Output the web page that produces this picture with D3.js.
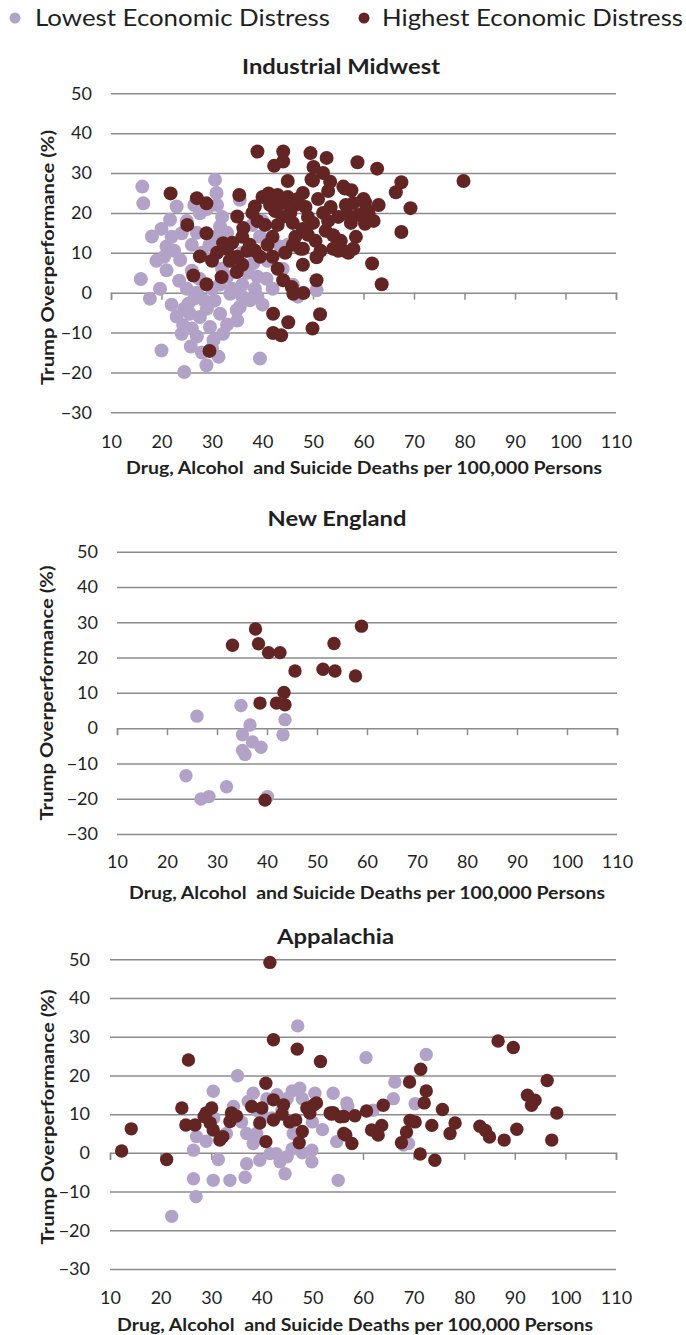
<!DOCTYPE html>
<html>
<head>
<meta charset="utf-8">
<script src="https://cdn.jsdelivr.net/npm/d3@7"></script>
<style>
  html, body { margin: 0; padding: 0; background: #ffffff; }
  svg { display: block; font-family: Lato, "Liberation Sans", sans-serif; }
</style>
</head>
<body>
<svg id="chart" width="686" height="1335"></svg>
<script>
// ---- labels and ticks ----
const xTicks = [10, 20, 30, 40, 50, 60, 70, 80, 90, 100, 110];
const yTicks = [-30, -20, -10, 0, 10, 20, 30, 40, 50];
const legendLabels = ["Lowest Economic Distress", "Highest Economic Distress"];
const regionNames = ["Industrial Midwest", "New England", "Appalachia"];
const xAxisTitle = "Drug, Alcohol  and Suicide Deaths per 100,000 Persons";
const yAxisTitle = "Trump Overperformance (%)";

// ---- county values: [deaths per 100k, Trump overperformance %] ----
const midwestLowest = [
  [16.2,26.6],[16.4,22.4],[18.1,14.1],[15.9,3.4],[17.7,-1.5],[19.7,1.0],[20.0,-14.5],[24.5,-19.9],
  [25.8,-13.5],[28.9,-18.2],[24.3,-8.2],[24.0,-10.3],[25.3,-2.8],[25.6,-5.3],[31.6,-5.3],[32.2,-10.3],
  [31.3,-16.1],[39.5,-16.5],[35.5,-3.6],[37.5,-1.9],[40.8,3.5],[50.7,0.6],[21.0,5.6],[27.6,-6.1],
  [29.6,-8.6],[30.3,-11.9],[33.6,-0.3],[34.9,-4.4],[30.6,28.3],[30.9,25.0],[23.0,21.6],[21.7,18.3],
  [24.0,14.9],[27.6,19.9],[31.6,16.6],[21.0,11.6],[23.7,8.2],[39.5,14.1],[43.5,11.6],[35.5,23.3],
  [38.2,7.4],[22.5,10.5],[23.5,3.0],[25.0,1.0],[26.0,5.5],[27.0,0.0],[27.5,3.5],[28.5,-2.0],
  [29.0,-4.0],[30.0,1.0],[30.5,-2.0],[31.5,2.0],[32.0,6.0],[33.0,4.0],[34.0,1.0],[36.0,2.0],
  [37.0,5.0],[36.0,-1.0],[38.5,1.0],[39.0,-1.0],[41.0,8.0],[42.0,13.0],[40.0,18.0],[38.0,17.0],
  [33.0,15.0],[32.0,19.0],[29.5,12.0],[28.0,10.0],[26.0,12.0],[27.0,15.0],[25.0,18.0],[29.0,21.0],
  [31.0,22.0],[26.5,22.0],[22.0,14.0],[20.5,9.0],[22.0,-3.0],[23.0,-6.0],[26.0,-9.0],[27.0,-11.0],
  [28.0,-15.0],[30.0,-14.0],[33.0,-8.0],[35.0,-7.0],[34.0,8.0],[44.0,6.0],[46.0,2.0],[47.0,-1.0],
  [40.0,-3.0],[42.0,1.0],[36.0,10.0],[39.0,4.0],[45.0,12.0],[30.5,14.0],[32.5,11.0],[24.5,-4.0],
  [26.5,-1.5],[20.0,16.0],[19.0,8.0]
];
const midwestHighest = [
  [39.0,35.4],[44.1,35.4],[42.3,31.8],[44.1,32.9],[49.5,35.0],[52.7,33.8],[50.1,31.5],[49.7,28.4],
  [53.4,27.8],[56.0,26.6],[21.8,24.9],[27.0,23.7],[28.9,22.4],[35.4,24.5],[38.5,21.6],[41.2,24.9],
  [25.1,17.0],[28.9,14.9],[35.0,19.1],[36.2,16.2],[27.6,9.1],[32.2,12.4],[58.8,32.7],[62.7,31.1],
  [67.5,27.7],[66.4,25.2],[79.8,28.0],[69.3,21.2],[67.5,15.2],[61.7,7.3],[63.6,2.1],[56.3,26.1],
  [57.6,25.7],[60.3,22.7],[60.6,19.8],[60.3,17.3],[56.0,10.6],[54.0,14.4],[50.0,28.1],[56.7,19.8],
  [50.7,8.9],[50.7,3.1],[26.3,4.3],[28.9,2.1],[31.9,3.9],[34.9,5.2],[29.5,-14.6],[42.1,-5.3],
  [45.1,-7.4],[42.1,-10.1],[43.7,-10.7],[44.1,3.1],[45.8,1.4],[48.1,-0.1],[46.1,-0.3],[51.4,-5.4],
  [49.9,-9.0],[30.0,8.0],[31.0,10.0],[33.0,11.0],[34.0,12.5],[35.0,9.0],[36.0,7.0],[37.0,10.5],
  [37.5,12.0],[38.5,10.5],[39.5,9.0],[38.0,20.0],[40.0,24.0],[41.5,22.0],[42.5,20.5],[43.0,17.0],
  [44.0,19.0],[45.0,24.0],[45.5,20.0],[46.0,17.5],[46.5,14.0],[47.0,23.5],[47.5,11.0],[48.0,16.0],
  [48.5,21.5],[49.0,19.0],[50.0,17.5],[50.5,13.0],[51.0,23.5],[51.5,10.5],[52.0,20.0],[52.5,15.5],
  [53.0,25.5],[53.5,21.5],[54.0,11.0],[55.0,19.0],[55.5,13.0],[56.5,22.0],[57.5,17.5],[58.0,22.5],
  [58.5,14.0],[59.0,19.5],[60.0,23.5],[61.0,20.0],[62.0,18.0],[41.0,12.0],[42.0,9.0],[43.0,6.0],
  [44.5,10.0],[46.0,12.0],[48.0,7.0],[49.0,14.5],[44.0,22.5],[46.5,22.0],[40.5,17.0],[42.0,14.0],
  [39.0,18.0],[36.0,14.0],[33.5,8.0],[43.0,24.5],[48.0,25.0],[55.0,10.5],[57.0,10.0],[60.5,21.0],
  [63.0,22.0],[52.0,30.0],[45.0,28.0],[48.0,11.0],[53.0,18.0],[58.0,11.0]
];

const newEnglandLowest = [
  [26.0,3.4],[34.8,6.4],[36.6,0.9],[35.1,-1.9],[37.1,-3.9],[38.8,-5.4],[35.1,-6.3],[35.6,-7.5],
  [43.6,2.4],[43.2,-1.9],[23.8,-13.5],[26.8,-20.1],[28.4,-19.4],[31.9,-16.6],[40.1,-19.4]
];
const newEnglandHighest = [
  [33.1,23.5],[37.7,28.1],[38.3,23.9],[40.3,21.4],[42.6,21.4],[45.6,16.2],[51.2,16.7],[53.6,16.2],
  [53.4,24.0],[57.7,14.8],[58.9,28.9],[38.6,7.1],[41.9,7.1],[43.4,10.1],[43.6,6.6],[39.6,-20.4]
];

const appalachiaLowest = [
  [47.1,32.8],[35.2,19.9],[30.4,15.9],[47.5,16.7],[50.5,15.4],[54.1,15.4],[38.3,15.4],[37.3,13.3],
  [60.6,24.6],[72.5,25.4],[66.3,18.3],[70.3,12.7],[56.8,12.9],[22.2,-16.4],[27.0,-11.3],[26.5,-6.7],
  [26.5,0.7],[27.1,4.2],[31.4,-1.7],[30.4,-7.1],[33.7,-7.1],[36.7,-6.3],[37.0,-2.8],[39.6,-1.9],
  [41.6,-0.2],[42.9,-0.2],[43.6,-2.3],[44.6,-5.4],[49.9,-2.3],[49.9,0.7],[55.1,-7.1],[37.0,5.0],
  [38.3,2.4],[46.2,5.0],[54.8,2.9],[34.4,12.0],[69.0,2.4],[39.0,11.0],[41.0,14.0],[43.0,15.0],
  [45.0,14.0],[46.0,16.0],[48.0,14.0],[44.0,11.0],[42.0,9.0],[36.0,8.0],[39.0,5.0],[33.0,5.0],
  [29.0,3.0],[46.0,1.0],[48.0,0.0],[45.0,-1.0],[50.0,8.0],[52.0,6.0],[57.0,12.0],[62.0,11.0],
  [66.0,14.0],[68.0,2.0],[30.5,9.0],[40.0,10.0]
];
const appalachiaHighest = [
  [41.6,49.2],[42.3,29.2],[47.0,26.8],[51.6,23.6],[25.5,24.0],[40.8,18.0],[24.2,11.6],[30.1,11.6],
  [42.3,13.7],[44.3,12.4],[50.8,12.9],[54.1,10.4],[40.0,11.6],[34.0,10.3],[29.0,10.3],[48.9,11.6],
  [86.7,28.9],[89.7,27.2],[96.4,18.7],[71.4,21.6],[72.5,16.0],[69.2,18.3],[72.1,12.9],[64.0,12.3],
  [75.7,11.2],[92.5,14.9],[94.0,13.6],[93.3,12.3],[98.3,10.3],[60.7,10.8],[12.3,0.5],[14.2,6.2],
  [21.2,-1.7],[25.0,7.2],[26.8,7.2],[28.6,9.4],[29.8,7.7],[30.4,5.9],[31.7,3.3],[32.3,4.2],
  [33.7,8.1],[39.6,7.7],[40.8,2.9],[42.3,8.5],[46.7,8.5],[48.0,5.5],[47.4,2.6],[49.5,10.3],
  [53.5,10.3],[56.2,9.4],[56.2,5.0],[53.8,10.0],[55.5,9.3],[58.4,9.6],[56.6,4.6],[57.8,2.4],
  [61.7,5.9],[63.0,4.6],[63.7,7.1],[69.3,8.4],[68.6,5.4],[67.6,2.6],[70.3,8.0],[71.3,-0.3],
  [74.2,-1.9],[73.6,7.1],[77.2,5.0],[78.2,7.7],[83.1,6.9],[84.2,5.8],[85.0,4.1],[87.9,3.3],
  [90.4,6.1],[97.3,3.3],[50.2,12.3],[45.5,8.0],[44.0,10.0],[35.0,9.5],[38.0,12.0]
];

// ---- styling ----
const lowColor = "#b3a2c7";
const highColor = "#632523";
const gridColor = "#8c8c8c";
const textColor = "#1f1f1f";

// ---- panel geometry ----
const panels = [
  { name: regionNames[0], low: midwestLowest, high: midwestHighest,
    x0: 111, x1: 616, yTop: 93.3, yBot: 412.3, r: 7,
    titleX: 341, titleY: 67, titleW: 198,
    yLabelX: 92, yTitleX: 48, yTitleY: 257.5,
    xLabelY: 442, xTitleX: 364, xTitleY: 468 },
  { name: regionNames[1], low: newEnglandLowest, high: newEnglandHighest,
    x0: 117, x1: 617, yTop: 551.7, yBot: 834, r: 6.7,
    titleX: 337, titleY: 519, titleW: 139,
    yLabelX: 98, yTitleX: 47, yTitleY: 693,
    xLabelY: 862, xTitleX: 367, xTitleY: 893 },
  { name: regionNames[2], low: appalachiaLowest, high: appalachiaHighest,
    x0: 110, x1: 616, yTop: 959.3, yBot: 1269, r: 6.7,
    titleX: 335.5, titleY: 937, titleW: 117,
    yLabelX: 90, yTitleX: 48, yTitleY: 1117,
    xLabelY: 1298, xTitleX: 355, xTitleY: 1325 }
];

const svg = d3.select("#chart");

// ---- legend ----
const legend = svg.append("g").attr("class", "legend");
const legendItems = [
  { label: legendLabels[0], color: lowColor, dotX: 15, textX: 35, textW: 295 },
  { label: legendLabels[1], color: highColor, dotX: 364, textX: 382, textW: 301 }
];
legendItems.forEach(item => {
  legend.append("circle")
    .attr("cx", item.dotX).attr("cy", 18).attr("r", 5.5)
    .attr("fill", item.color);
  legend.append("text")
    .attr("x", item.textX).attr("y", 18)
    .attr("dy", "0.35em")
    .attr("font-size", 23)
    .attr("fill", textColor)
    .attr("textLength", item.textW)
    .attr("lengthAdjust", "spacingAndGlyphs")
    .text(item.label);
});

// ---- panels ----
panels.forEach(p => {
  const g = svg.append("g").attr("class", "panel");
  const x = d3.scaleLinear().domain([10, 110]).range([p.x0, p.x1]);
  const y = d3.scaleLinear().domain([-30, 50]).range([p.yBot, p.yTop]);

  // title
  g.append("text")
    .attr("x", p.titleX).attr("y", p.titleY).attr("dy", "0.35em")
    .attr("text-anchor", "middle")
    .attr("font-size", 20).attr("font-weight", 700)
    .attr("fill", textColor)
    .attr("textLength", p.titleW).attr("lengthAdjust", "spacingAndGlyphs")
    .text(p.name);

  // horizontal gridlines
  const grid = g.append("g")
    .attr("transform", `translate(${p.x0},0)`)
    .call(d3.axisLeft(y).tickValues(yTicks.filter(v => v !== 0))
      .tickSize(-(p.x1 - p.x0)).tickFormat(""));
  grid.select(".domain").remove();
  grid.selectAll(".tick line").attr("stroke", gridColor).attr("stroke-width", 1.5);

  // x axis line at zero with downward ticks
  const xAxis = g.append("g")
    .attr("transform", `translate(0,${y(0)})`)
    .call(d3.axisBottom(x).tickValues(xTicks).tickSize(7).tickSizeOuter(7).tickFormat(""));
  xAxis.select(".domain").attr("stroke", gridColor).attr("stroke-width", 1.5);
  xAxis.selectAll(".tick line").attr("stroke", gridColor).attr("stroke-width", 1.5);

  // x tick labels along the bottom
  const xLab = g.append("g")
    .attr("transform", `translate(0,${p.xLabelY})`)
    .call(d3.axisBottom(x).tickValues(xTicks).tickSize(0).tickPadding(0));
  xLab.select(".domain").remove();
  xLab.selectAll("text")
    .attr("y", 0).attr("dy", "0.36em")
    .attr("font-size", 18).attr("font-family", "Lato, 'Liberation Sans', sans-serif")
    .attr("fill", textColor);

  // y tick labels
  const yLab = g.append("g")
    .attr("transform", `translate(${p.yLabelX},0)`)
    .call(d3.axisLeft(y).tickValues(yTicks).tickSize(0).tickPadding(0));
  yLab.select(".domain").remove();
  yLab.selectAll("text")
    .attr("font-size", 18).attr("font-family", "Lato, 'Liberation Sans', sans-serif")
    .attr("fill", textColor);

  // axis titles
  g.append("text")
    .attr("x", p.xTitleX).attr("y", p.xTitleY).attr("dy", "0.35em")
    .attr("text-anchor", "middle")
    .attr("font-size", 16.5).attr("font-weight", 700)
    .attr("fill", textColor)
    .attr("textLength", 476).attr("lengthAdjust", "spacingAndGlyphs")
    .style("white-space", "pre")
    .text(xAxisTitle);

  g.append("text")
    .attr("transform", `translate(${p.yTitleX},${p.yTitleY}) rotate(-90)`)
    .attr("dy", "0.35em")
    .attr("text-anchor", "middle")
    .attr("font-size", 16.5).attr("font-weight", 700)
    .attr("fill", textColor)
    .attr("textLength", 255).attr("lengthAdjust", "spacingAndGlyphs")
    .text(yAxisTitle);

  // markers: lowest distress first, highest distress drawn over it
  g.append("g").selectAll("circle").data(p.low).join("circle")
    .attr("cx", d => x(d[0])).attr("cy", d => y(d[1])).attr("r", p.r)
    .attr("fill", lowColor);
  g.append("g").selectAll("circle").data(p.high).join("circle")
    .attr("cx", d => x(d[0])).attr("cy", d => y(d[1])).attr("r", p.r)
    .attr("fill", highColor);
});
</script>
</body>
</html>
